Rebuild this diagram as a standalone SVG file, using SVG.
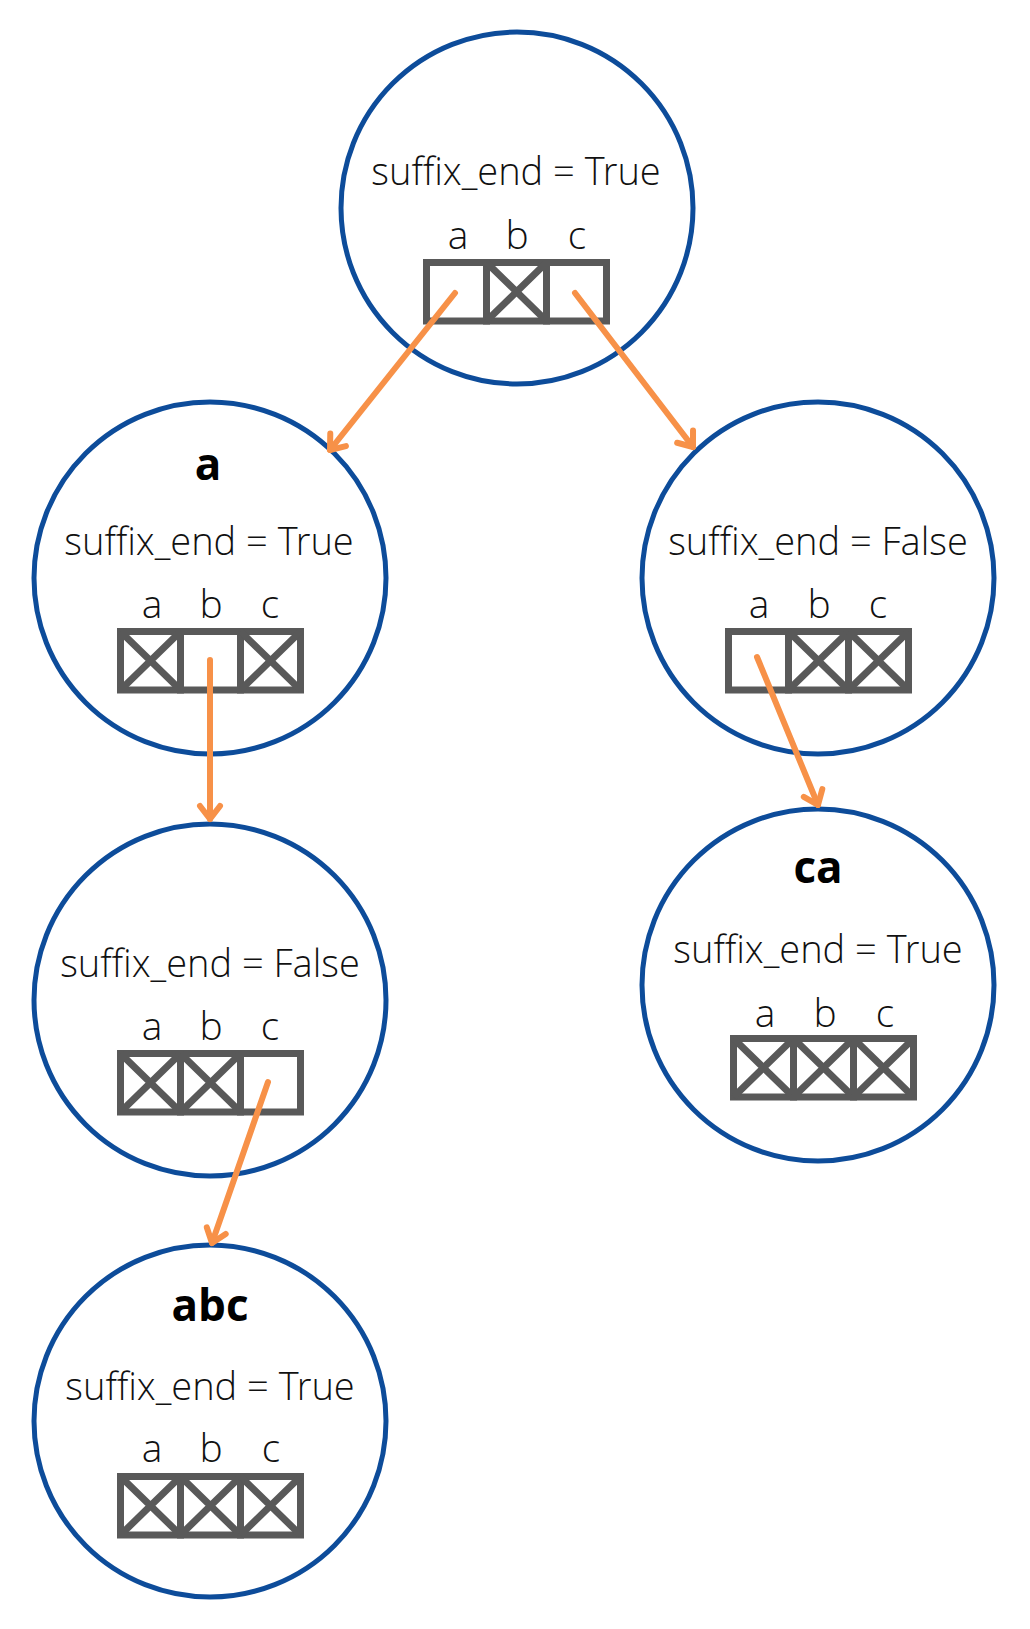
<svg xmlns="http://www.w3.org/2000/svg" xmlns:xlink="http://www.w3.org/1999/xlink" width="1030" height="1629" viewBox="0 0 1030 1629">
<style>
.node circle{fill:#fff;stroke:#0D4C9A;stroke-width:5}
.t{font-family:"Open Sans Light","Open Sans","Noto Sans",sans-serif;font-weight:300;font-size:38px;fill:#111;text-anchor:middle}
.l{font-family:"Open Sans Light","Open Sans","Noto Sans",sans-serif;font-weight:300;font-size:39px;fill:#111;text-anchor:middle}
.b{font-family:"Open Sans","Noto Sans",sans-serif;font-weight:700;font-size:44px;fill:#000;text-anchor:middle}
.cell{fill:none;stroke:#595959;stroke-width:7}
.edge{fill:none;stroke:#F79148;stroke-width:6;stroke-linecap:round}
</style>
<defs>
<g id="e"><rect class="cell" x="3.5" y="3.5" width="60" height="58.5"/></g>
<g id="x"><rect class="cell" x="3.5" y="3.5" width="60" height="58.5"/><path class="cell" d="M3.5,3.5 L63.5,62 M63.5,3.5 L3.5,62"/></g>
<marker id="ah" markerUnits="userSpaceOnUse" viewBox="-20 -14 24 28" markerWidth="24" markerHeight="28" refX="0" refY="0" orient="auto">
<path d="M-13,-10 L0,0 L-13,10" fill="none" stroke="#F79148" stroke-width="6" stroke-linecap="round" stroke-linejoin="round"/>
</marker>
</defs>
<rect width="1030" height="1629" fill="#fff"/>
<g id="root" class="node">
<circle cx="517" cy="208" r="176"/>
<text class="t" x="516" y="185">suffix_end = True</text>
<text class="l" x="458" y="249">a</text><text class="l" x="517" y="249">b</text><text class="l" x="577" y="249">c</text>
<use xlink:href="#e" x="423" y="259"/><use xlink:href="#x" x="483" y="259"/><use xlink:href="#e" x="543" y="259"/>
</g>
<g id="node-a" class="node">
<circle cx="210" cy="578" r="176"/>
<text class="b" x="208" y="480">a</text>
<text class="t" x="209" y="555">suffix_end = True</text>
<text class="l" x="152" y="618">a</text><text class="l" x="211" y="618">b</text><text class="l" x="270" y="618">c</text>
<use xlink:href="#x" x="117" y="628"/><use xlink:href="#e" x="177" y="628"/><use xlink:href="#x" x="237" y="628"/>
</g>
<g id="node-c" class="node">
<circle cx="818" cy="578" r="176"/>
<text class="t" x="818" y="555">suffix_end = False</text>
<text class="l" x="759" y="618">a</text><text class="l" x="819" y="618">b</text><text class="l" x="878" y="618">c</text>
<use xlink:href="#e" x="725" y="628"/><use xlink:href="#x" x="785" y="628"/><use xlink:href="#x" x="845" y="628"/>
</g>
<g id="node-ab" class="node">
<circle cx="210" cy="1000" r="176"/>
<text class="t" x="210" y="977">suffix_end = False</text>
<text class="l" x="152" y="1040">a</text><text class="l" x="211" y="1040">b</text><text class="l" x="270" y="1040">c</text>
<use xlink:href="#x" x="117" y="1050"/><use xlink:href="#x" x="177" y="1050"/><use xlink:href="#e" x="237" y="1050"/>
</g>
<g id="node-ca" class="node">
<circle cx="818" cy="985" r="176"/>
<text class="b" x="818" y="883">ca</text>
<text class="t" x="818" y="963">suffix_end = True</text>
<text class="l" x="765" y="1027">a</text><text class="l" x="825" y="1027">b</text><text class="l" x="885" y="1027">c</text>
<use xlink:href="#x" x="730" y="1035"/><use xlink:href="#x" x="790" y="1035"/><use xlink:href="#x" x="850" y="1035"/>
</g>
<g id="node-abc" class="node">
<circle cx="210" cy="1421" r="176"/>
<text class="b" x="210" y="1321">abc</text>
<text class="t" x="210" y="1400">suffix_end = True</text>
<text class="l" x="152" y="1462">a</text><text class="l" x="211" y="1462">b</text><text class="l" x="271" y="1462">c</text>
<use xlink:href="#x" x="117" y="1473"/><use xlink:href="#x" x="177" y="1473"/><use xlink:href="#x" x="237" y="1473"/>
</g>
<g id="connectors">
<line class="edge" x1="455" y1="293" x2="330" y2="450" marker-end="url(#ah)"/>
<line class="edge" x1="575" y1="293" x2="693" y2="447" marker-end="url(#ah)"/>
<line class="edge" x1="210" y1="660" x2="210" y2="819" marker-end="url(#ah)"/>
<line class="edge" x1="757" y1="657" x2="818" y2="805" marker-end="url(#ah)"/>
<line class="edge" x1="268" y1="1082" x2="212" y2="1243" marker-end="url(#ah)"/>
</g>
</svg>
